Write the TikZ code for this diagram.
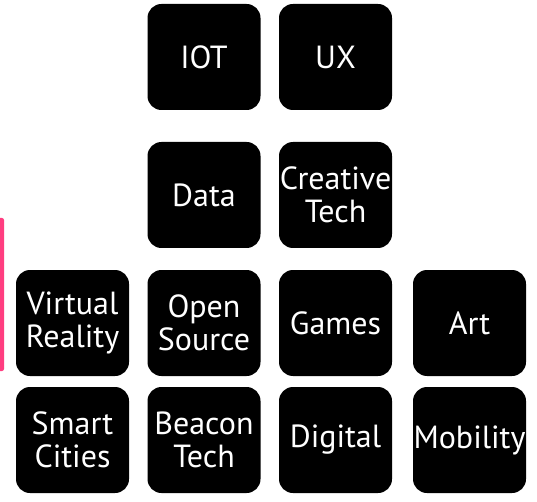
\documentclass[tikz,border=0pt]{standalone}
\usepackage{fontspec}
\setmainfont{PT Sans}
\usepackage{tikz}
\definecolor{barpink}{HTML}{FF3D80}
\tikzset{
  tile/.style={fill=black, text=white, rounded corners=14pt,
    minimum width=113pt, minimum height=106pt, inner sep=0pt,
    align=center, font=\fontsize{32}{33}\selectfont}
}

\begin{document}
\begin{tikzpicture}[x=1pt,y=-1pt]
\useasboundingbox (0,0) rectangle (537,502);
% pink bar on the left edge
\fill[barpink, rounded corners=2pt] (-4,218) rectangle (4,371);

% Top row
\node[tile] (iot) at (204,57) {IOT};
\node[tile] (ux) at (335.5,57) {UX};

% Second row
\node[tile] (data) at (204,195) {Data};
\node[tile] (creative) at (335.5,195) {Creative\\Tech};

% Third row
\node[tile] (vr) at (72.5,323) {Virtual\\Reality};
\node[tile] (opensrc) at (204,323) {Open\\Source};
\node[tile] (games) at (335.5,323) {Games};
\node[tile] (art) at (469.5,323) {Art};

% Bottom row
\node[tile] (smart) at (72.5,440) {Smart\\Cities};
\node[tile] (beacon) at (204,440) {Beacon\\Tech};
\node[tile] (digital) at (335.5,440) {Digital};
\node[tile] (mobility) at (469.5,440) {Mobility};
\end{tikzpicture}
\end{document}
